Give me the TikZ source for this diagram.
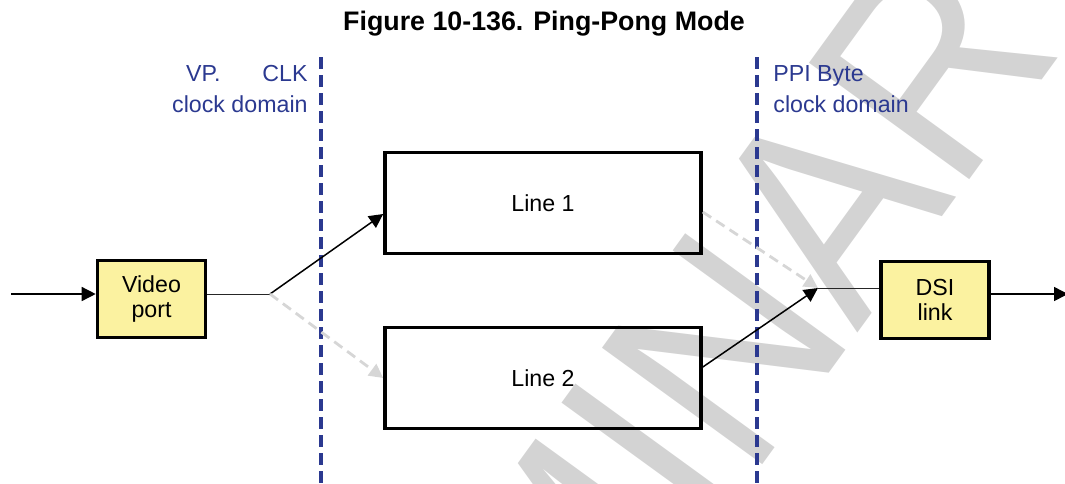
\documentclass[tikz,border=0pt]{standalone}
\usepackage{fontspec}
\setmainfont{Liberation Sans}
\usetikzlibrary{arrows.meta,positioning}
\definecolor{domblue}{RGB}{43,57,144}
\definecolor{unityellow}{RGB}{251,242,160}
\definecolor{idlegray}{RGB}{214,214,214}
\definecolor{wmgray}{RGB}{211,211,211}
\tikzset{
  unitbox/.style={draw,line width=1.8pt,fill=unityellow,align=center,inner sep=0pt,
    minimum width=54pt,minimum height=38.5pt,font=\fontsize{11.6}{12.8}\selectfont},
  linebox/.style={draw,line width=1.8pt,inner sep=0pt,minimum width=158pt,minimum height=50.5pt},
  domline/.style={domblue,line width=1.8pt,dash pattern=on 6pt off 3pt},
  domlabel/.style={text=domblue,inner sep=0pt,font=\fontsize{11.6}{15.5}\selectfont},
  dataarrow/.style={line width=0.75pt,-{Triangle[length=7pt,width=7pt]}},
  idlearrow/.style={idlegray,line width=1.4pt,dash pattern=on 5pt off 3pt,-{Triangle[length=7pt,width=7pt]}},
  joinline/.style={black!85,line width=0.5pt},
}

\begin{document}
\begin{tikzpicture}[x=0.5pt,y=-0.5pt,font=\fontsize{11.6}{13.4}\selectfont]
  \useasboundingbox (0,0) rectangle (1065,483);
  % watermark
  \begin{scope}
    \clip (0,0) rectangle (1065,483);
    \node[text=wmgray,rotate=54,xscale=0.88,anchor=base west,inner sep=0pt,
      font=\fontsize{144}{144}\selectfont] (wm) at (154,1302) {PRELIMINARY};
  \end{scope}

  \node[font=\fontsize{13.4}{15}\selectfont\bfseries] (title) at (544,24) {Figure 10-136. Ping-Pong Mode};

  % clock domains
  \coordinate (vptop) at (321,57);
  \coordinate (vpbot) at (321,483);
  \coordinate (ppitop) at (757,57);
  \coordinate (ppibot) at (757,483);
  \draw[domline] (vptop) -- (vpbot);
  \draw[domline] (ppitop) -- (ppibot);
  \node[domlabel,anchor=base east] (vplabel) at (308,81)
    {\begin{tabular}[t]{@{}r@{}}VP.\hspace{21pt}CLK\\clock domain\end{tabular}};
  \node[domlabel,anchor=base west] (ppilabel) at (773,81)
    {\begin{tabular}[t]{@{}l@{}}PPI Byte\\clock domain\end{tabular}};

  % blocks
  \node[unitbox] (vp) at (151.5,299) {Video\\port};
  \node[linebox] (l1) at (543,203) {Line 1};
  \node[linebox] (l2) at (543,378) {Line 2};
  \node[unitbox] (dsi) at (935,300) {DSI\\link};

  % data path
  \coordinate (src) at (11,294);
  \coordinate (fork) at (270,294);
  \coordinate (merge) at (818,288);
  \coordinate (sink) at (1068,294);
  \draw[dataarrow] (src) -- (src -| vp.west);
  \draw[joinline] (fork -| vp.east) -- (fork);
  \draw[dataarrow] (fork) -- ([yshift=-5.5pt]l1.west);
  \draw[idlearrow] (fork) -- (l2.west);
  \draw[idlearrow] ([yshift=-4.5pt]l1.east) -- (merge);
  \draw[dataarrow] ([yshift=5.5pt]l2.east) -- (merge);
  \draw[joinline] (merge) -- (merge -| dsi.west);
  \draw[dataarrow] (dsi.east |- sink) -- (sink);
\end{tikzpicture}
\end{document}
